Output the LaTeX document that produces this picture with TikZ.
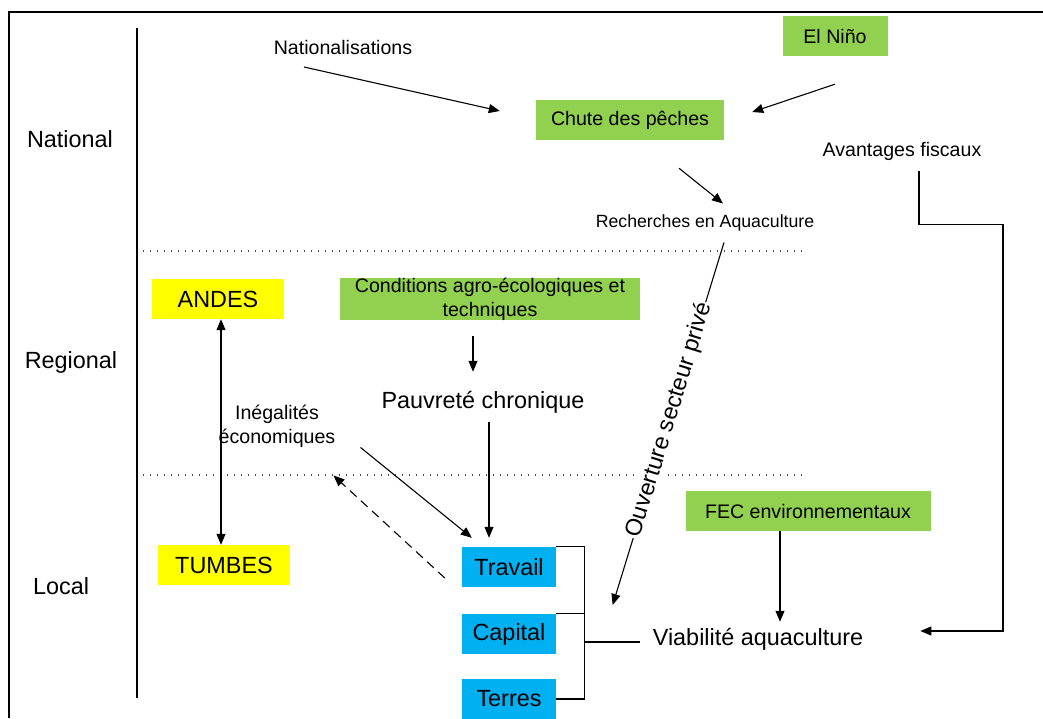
\documentclass[tikz,border=0pt]{standalone}
\usepackage{fontspec}
\setmainfont{Liberation Sans}
\usetikzlibrary{arrows.meta,positioning}

\definecolor{boxgreen}{HTML}{92D050}
\definecolor{boxyellow}{HTML}{FFFF00}
\definecolor{boxblue}{HTML}{00B0F0}

\newcommand{\bigtxt}{\fontsize{23.4}{27}\selectfont}
\newcommand{\midtxt}{\fontsize{19.6}{24}\selectfont}
\newcommand{\smalltxt}{\fontsize{17.7}{21}\selectfont}

\begin{document}
\begin{tikzpicture}[x=1pt, y=-1pt,
        greenbox/.style={fill=boxgreen, minimum height=40pt, inner sep=0pt, font=\midtxt},
        yellowbox/.style={fill=boxyellow, minimum width=132pt, minimum height=40pt,
                          inner sep=0pt, font=\bigtxt},
        bluebox/.style={fill=boxblue, minimum width=94pt, minimum height=40pt,
                        inner sep=0pt, font=\bigtxt},
        scalelabel/.style={inner sep=0pt, font=\bigtxt},
        freetext/.style={inner sep=0pt, font=\midtxt},
        arr/.style={-{Triangle[length=11pt, width=9pt]}, line width=1.1pt},
        link/.style={line width=1.1pt},
        sep/.style={line width=1.1pt, black!70, dash pattern=on 1.2pt off 5.8pt}]
        \useasboundingbox (0,0) rectangle (1043,718);

        \draw [line width=2pt] (9,718) |- (1043,12);
        \draw [line width=1.3pt] (137,28) -- (137,698);
        \draw [sep] (143,251) -- (805,251);
        \draw [sep] (143,475) -- (805,475);

        \node [scalelabel] (national) at (70,139) {National};
        \node [scalelabel] (regional) at (71,362) {Regional};
        \node [scalelabel] (local) at (61,586) {Local};

        \node [freetext] (nat) at (343,47) {Nationalisations};
        \node [greenbox, minimum width=105pt] (nino) at (835,36) {El Niño};
        \node [greenbox, minimum width=188pt] (chute) at (630,120) {Chute des pêches};
        \node [freetext, font=\smalltxt] (rech) at (705,223) {Recherches en Aquaculture};
        \node [freetext] (avant) at (902,151) {Avantages fiscaux};

        \node [yellowbox] (andes) at (218,299) {ANDES};
        \node [yellowbox] (tumbes) at (224,565) {TUMBES};
        \node [greenbox, minimum width=300pt, align=center] (cond) at (490,299)
              {Conditions agro-écologiques et\\techniques};
        \node [scalelabel] (pauv) at (483,402) {Pauvreté chronique};
        \node [freetext, align=center] (ineg) at (277,426) {Inégalités\\économiques};

        \node [bluebox] (trav) at (509,567) {Travail};
        \node [bluebox] (capi) at (509,634) {Capital};
        \node [bluebox] (terr) at (509,699) {Terres};
        \node [scalelabel] (viab) at (758,639) {Viabilité aquaculture};
        \node [greenbox, minimum width=245pt] (fec) at (808,511) {FEC environnementaux};

        \draw [arr] ([shift={(-39,20)}]nat.center) -- ([shift={(-36,-9)}]chute.west);
        \draw [arr] ([shift={(0,28)}]nino.south) -- ([shift={(28,-8)}]chute.east);
        \draw [arr] ([shift={(49,28)}]chute.south) -- ([shift={(18,-11)}]rech.north);
        \draw [arr] ([shift={(17,11)}]avant.south) -- ++(0,53) -- ++(84,0)
              |- ([shift={(57,-8)}]viab.east);
        \draw [arr] ([shift={(19,11)}]rech.south) -- ([shift={(-40,-34)}]viab.west)
              node [pos=0.49, sloped, fill=white, inner sep=1pt, font=\bigtxt]
              {Ouverture secteur privé};

        \draw [{Triangle[length=11pt, width=9pt]}-{Triangle[length=11pt, width=9pt]}, line width=1.1pt]
              ([shift={(3,0)}]andes.south) -- ([shift={(-3,0)}]tumbes.north);
        \draw [arr] ([shift={(-17,16)}]cond.south) -- ([shift={(-10,-19)}]pauv.north);
        \draw [arr] ([shift={(6,9)}]pauv.south) -- ([shift={(-20,-9)}]trav.north);
        \draw [arr] ([shift={(25,0)}]ineg.south east) -- ([shift={(10,-9)}]trav.north west);
        \draw [arr, dash pattern=on 9pt off 6pt] ([shift={(-17,11)}]trav.west)
              -- ([shift={(-2,28)}]ineg.south east);
        \draw [arr] ([shift={(-28,0)}]fec.south) -- ([shift={(22,-6)}]viab.north);

        \draw [link] (trav.north east) -- ++(28,0) |- (terr.east);
        \draw [link] (capi.north east) -- ++(28,0);
        \draw [link] ([shift={(28,8)}]capi.east) -- ++(56,0);
\end{tikzpicture}
\end{document}
